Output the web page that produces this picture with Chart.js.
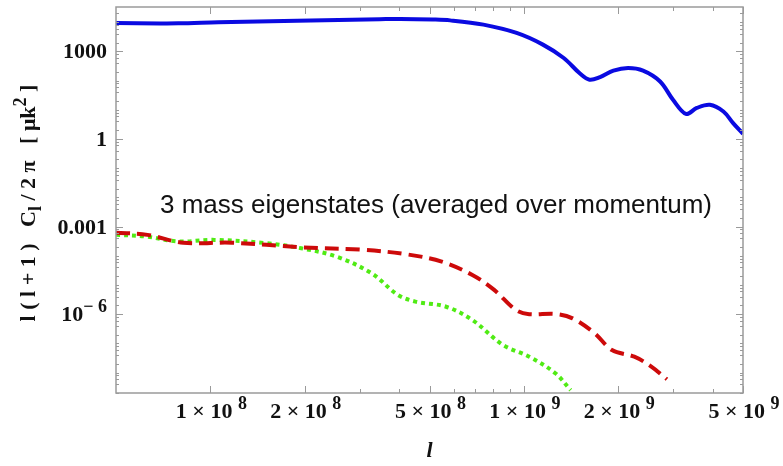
<!DOCTYPE html>
<html>
<head>
<meta charset="utf-8">
<script src="https://cdn.jsdelivr.net/npm/chart.js@4.4.1/dist/chart.umd.min.js"></script>
<style>
  body { margin: 0; background: #fff; }
  #wrap { width: 783px; height: 466px; }
</style>
</head>
<body>
<div id="wrap"><canvas id="clChart" width="783" height="466"></canvas></div>
<script>
// multipole l and l(l+1)C_l/2pi
const blueL = [5.0e7, 7.9e7, 1.06e8, 1.89e8, 3.47e8, 4.04e8, 5.13e8, 5.82e8, 7.43e8, 9.48e8, 1.15e9, 1.34e9, 1.51e9, 1.62e9, 1.75e9, 1.93e9, 2.15e9, 2.40e9, 2.72e9, 2.99e9, 3.29e9, 3.56e9, 3.92e9, 4.33e9, 4.65e9, 5.0e9];
const blueC = [9300, 9100, 10000, 11200, 12600, 12900, 12300, 11500, 8200, 4270, 1700, 590, 174, 107, 132, 219, 269, 219, 93, 22, 7.2, 11.5, 14.8, 8.7, 3.5, 1.5];

const redL = [5.0e7, 6.3e7, 8.2e7, 1.17e8, 1.95e8, 3.07e8, 4.23e8, 5.47e8, 6.85e8, 8.04e8, 9.44e8, 1.04e9, 1.26e9, 1.43e9, 1.68e9, 1.91e9, 2.25e9, 2.55e9, 2.86e9];
const redC = [6.2e-4, 5.2e-4, 2.8e-4, 2.8e-4, 1.95e-4, 1.6e-4, 1.12e-4, 6.3e-5, 2.2e-5, 6.8e-6, 1.38e-6, 1.0e-6, 1.02e-6, 7.2e-7, 2.24e-7, 5.9e-8, 3.5e-8, 1.6e-8, 5.9e-9];

const greenL = [5.0e7, 6.2e7, 7.9e7, 1.03e8, 1.51e8, 1.95e8, 2.53e8, 3.27e8, 3.96e8, 4.51e8, 5.65e8, 6.85e8, 8.57e8, 1.04e9, 1.26e9, 1.41e9];
const greenC = [5.2e-4, 4.6e-4, 3.1e-4, 3.5e-4, 2.7e-4, 1.8e-4, 9.3e-5, 2.5e-5, 4.6e-6, 2.7e-6, 1.8e-6, 6.3e-7, 8.9e-8, 3.5e-8, 9.5e-9, 2.5e-9];

// ticks
const xTicks = [1e8, 2e8, 5e8, 1e9, 2e9, 5e9];
const xTickMant = ['1', '2', '5', '1', '2', '5'];
const xTickExp = ['8', '8', '8', '9', '9', '9'];
const xMinor = [3e8, 4e8, 6e8, 7e8, 8e8, 9e8, 3e9, 4e9];
const yTicks = [1000, 1, 0.001, 1e-6];
const yTickText = ['1000', '1', '0.001', '10'];
const yTickExp = ['', '', '', '\u2212 6'];

const annotation = '3 mass eigenstates (averaged over momentum)';

function pts(xs, ys) {
  return xs.map((x, i) => ({ x: x, y: ys[i] }))
}

const SERIF = '"Liberation Serif", "Times New Roman", serif';

// draws text with superscript / subscript pieces
function drawRich(ctx, parts, x, y, align, size, style) {
  const small = Math.round(size * 0.8);
  const widths = parts.map(p => {
    ctx.font = `${style} ${p.s ? small : size}px ${SERIF}`;
    return ctx.measureText(p.t).width
  })
  const total = widths.reduce((a, b) => a + b, 0);
  let cx = align === 'center' ? x - total / 2 : align === 'right' ? x - total : x;
  parts.forEach((p, i) => {
    ctx.font = `${style} ${p.s ? small : size}px ${SERIF}`;
    let dy = 0;
    if (p.s === 1) dy = -size * 0.42;
    if (p.s === -1) dy = size * 0.25;
    ctx.textAlign = 'left';
    ctx.fillText(p.t, cx, y + dy);
    cx += widths[i];
  })
}

const framePlugin = {
  id: 'framePlugin',
  afterDatasetsDraw(chart) {
    const ctx = chart.ctx;
    const a = chart.chartArea;
    const xs = chart.scales.x;
    const ys = chart.scales.y;
    ctx.save();
    ctx.strokeStyle = '#9a9a9a';
    ctx.lineWidth = 1.5;
    ctx.strokeRect(a.left, a.top, a.right - a.left, a.bottom - a.top);

    ctx.lineWidth = 1;
    // x ticks bottom + top, inward
    xTicks.forEach(v => {
      const px = Math.round(xs.getPixelForValue(v)) + 0.5;
      ctx.beginPath();
      ctx.moveTo(px, a.bottom); ctx.lineTo(px, a.bottom - 7);
      ctx.moveTo(px, a.top); ctx.lineTo(px, a.top + 7);
      ctx.stroke();
    })
    xMinor.forEach(v => {
      const px = Math.round(xs.getPixelForValue(v)) + 0.5;
      ctx.beginPath();
      ctx.moveTo(px, a.bottom); ctx.lineTo(px, a.bottom - 4);
      ctx.moveTo(px, a.top); ctx.lineTo(px, a.top + 4);
      ctx.stroke();
    })
    // y ticks left + right
    yTicks.forEach(v => {
      const py = Math.round(ys.getPixelForValue(v)) + 0.5;
      ctx.beginPath();
      ctx.moveTo(a.left, py); ctx.lineTo(a.left + 7, py);
      ctx.moveTo(a.right, py); ctx.lineTo(a.right - 7, py);
      ctx.stroke();
    })
    for (let e = -9; e <= 4; e++) {
      [1, 2, 4, 6, 8].forEach(m => {
        const v = m * Math.pow(10, e);
        if (v < ys.min || v > ys.max) return;
        if (yTicks.some(t => Math.abs(t - v) / t < 1e-6)) return;
        const py = Math.round(ys.getPixelForValue(v)) + 0.5;
        ctx.beginPath();
        ctx.moveTo(a.left, py); ctx.lineTo(a.left + 3, py);
        ctx.moveTo(a.right, py); ctx.lineTo(a.right - 3, py);
        ctx.stroke();
      })
    }

    ctx.fillStyle = '#111';
    ctx.textBaseline = 'alphabetic';
    // x tick labels
    xTicks.forEach((v, i) => {
      const px = xs.getPixelForValue(v);
      drawRich(ctx, [{ t: xTickMant[i] + ' \u00d7 10 ' }, { t: xTickExp[i], s: 1 }], px + 1, 418, 'center', 22, 'bold');
    })
    // y tick labels
    yTicks.forEach((v, i) => {
      const py = ys.getPixelForValue(v);
      const parts = [{ t: yTickText[i] }];
      if (yTickExp[i]) parts.push({ t: yTickExp[i], s: 1 });
      drawRich(ctx, parts, 107, py + 7, 'right', 22, 'bold');
    })

    // axis titles
    drawRich(ctx, [{ t: 'l' }], (a.left + a.right) / 2, 457, 'center', 22, 'italic bold');
    ctx.save();
    ctx.translate(35, 203);
    ctx.rotate(-Math.PI / 2);
    drawRich(ctx, [
      { t: 'l ( l + 1 )   C' }, { t: 'l', s: -1 }, { t: ' / 2 \u03c0   [ \u03bck' }, { t: '2', s: 1 }, { t: ' ]' }
    ], 0, 0, 'center', 22, 'bold');
    ctx.restore();

    // annotation
    ctx.font = '26px "Liberation Sans", Arial, sans-serif';
    ctx.textAlign = 'center';
    ctx.fillText(annotation, 436, 213);
    ctx.restore();
  }
}

new Chart(document.getElementById('clChart'), {
  type: 'line',
  data: {
    datasets: [{
      label: 'mass eigenstate 1',
      data: pts(blueL, blueC),
      borderColor: 'rgb(10, 10, 225)',
      borderWidth: 4,
      tension: 0.35,
      pointRadius: 0,
      fill: false
    }, {
      label: 'mass eigenstate 2',
      data: pts(redL, redC),
      borderColor: 'rgb(205, 10, 10)',
      borderWidth: 4,
      borderDash: [14, 7],
      tension: 0.35,
      pointRadius: 0,
      fill: false
    }, {
      label: 'mass eigenstate 3',
      data: pts(greenL, greenC),
      borderColor: 'rgb(80, 235, 20)',
      borderWidth: 4,
      borderDash: [4, 4],
      tension: 0.35,
      pointRadius: 0,
      fill: false
    }]
  },
  options: {
    responsive: false,
    animation: false,
    layout: { padding: { top: 7, right: 40, bottom: 0, left: 0 } },
    plugins: {
      legend: { display: false },
      tooltip: { enabled: false }
    },
    scales: {
      x: {
        type: 'logarithmic',
        min: 5e7,
        max: 5e9,
        ticks: { display: false },
        grid: { display: false },
        border: { display: false },
        afterFit: scale => { scale.height = 73 }
      },
      y: {
        type: 'logarithmic',
        min: 2.0e-9,
        max: 3.3e4,
        ticks: { display: false },
        grid: { display: false },
        border: { display: false },
        afterFit: scale => { scale.width = 116 }
      }
    }
  },
  plugins: [framePlugin]
});
</script>
</body>
</html>
